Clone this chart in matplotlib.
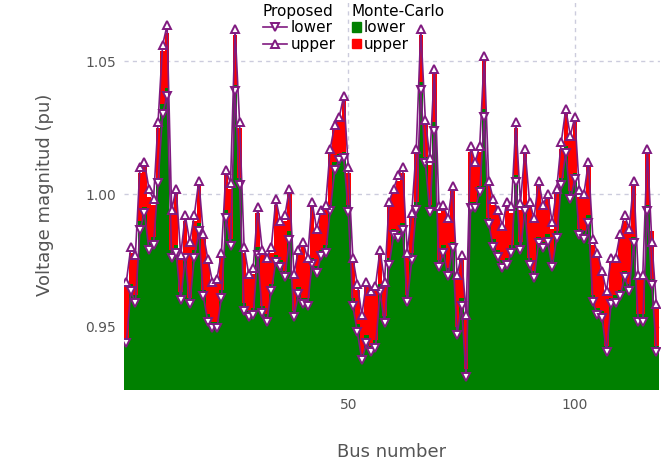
import numpy as np
import matplotlib
matplotlib.use("Agg")
import matplotlib.pyplot as plt
from matplotlib.lines import Line2D
from matplotlib.patches import Patch

buses = list(range(1, 119))

prop_upper = [0.967, 0.980, 0.977, 1.010, 1.012, 1.002, 0.998, 1.027, 1.056, 1.0635,
              0.994, 1.002, 0.977, 0.992, 0.982, 0.992, 1.005, 0.985, 0.9755, 0.967,
              0.968, 0.978, 1.009, 1.004, 1.062, 1.027, 0.980, 0.970, 0.972, 0.995,
              0.979, 0.976, 0.980, 0.998, 0.990, 0.992, 1.002, 0.970, 0.979, 0.982,
              0.976, 0.997, 0.987, 0.994, 0.996, 1.017, 1.026, 1.029, 1.037, 1.010,
              0.976, 0.966, 0.9545, 0.967, 0.9635, 0.9655, 0.979, 0.967, 0.997, 1.002,
              1.007, 1.010, 0.978, 0.993, 1.017, 1.062, 1.028, 1.0135, 1.047, 0.9955,
              0.996, 0.991, 1.003, 0.9695, 0.977, 0.9545, 1.018, 1.012, 1.018, 1.052,
              1.005, 0.998, 0.994, 0.988, 0.997, 0.9955, 1.027, 0.9965, 1.017, 0.997,
              0.991, 1.005, 0.996, 1.000, 0.9895, 1.002, 1.0195, 1.032, 1.022, 1.029,
              1.0015, 1.000, 1.012, 0.983, 0.978, 0.971, 0.9635, 0.976, 0.976, 0.985,
              0.992, 0.987, 1.005, 0.9695, 0.9695, 1.017, 0.982, 0.9585]

prop_lower = [0.944, 0.9635, 0.959, 0.9865, 0.993, 0.979, 0.981, 1.004, 1.030, 1.037,
              0.976, 0.978, 0.960, 0.976, 0.9585, 0.976, 0.986, 0.9615, 0.952, 0.9497,
              0.9497, 0.961, 0.991, 0.9805, 1.0387, 1.0034, 0.956, 0.9537, 0.9545, 0.977,
              0.9553, 0.952, 0.9635, 0.9745, 0.9726, 0.9688, 0.9827, 0.9538, 0.9624, 0.9586,
              0.958, 0.9737, 0.9703, 0.9767, 0.978, 0.9936, 1.009, 1.0128, 1.0135, 0.9932,
              0.958, 0.948, 0.9376, 0.944, 0.9406, 0.942, 0.963, 0.9515, 0.9733, 0.9846,
              0.9835, 0.9865, 0.9594, 0.975, 0.994, 1.039, 1.0117, 0.9932, 1.0237, 0.9726,
              0.978, 0.969, 0.9797, 0.947, 0.958, 0.931, 0.9947, 0.9947, 1.0008, 1.029,
              0.9887, 0.980, 0.9763, 0.972, 0.9733, 0.978, 1.0045, 0.979, 0.9936, 0.9733,
              0.9685, 0.9816, 0.9797, 0.982, 0.9726, 0.9835, 1.0034, 1.0154, 0.998, 1.0056,
              0.9846, 0.983, 0.989, 0.9594, 0.9545, 0.9534, 0.9406, 0.9586, 0.959, 0.9617,
              0.9688, 0.9635, 0.9816, 0.952, 0.952, 0.9936, 0.9658, 0.9406]

mc_upper = [0.965, 0.978, 0.975, 1.008, 1.010, 0.999, 0.996, 1.025, 1.054, 1.0605,
            0.992, 1.000, 0.975, 0.990, 0.980, 0.990, 1.003, 0.983, 0.974, 0.965,
            0.966, 0.976, 1.007, 1.002, 1.060, 1.025, 0.978, 0.968, 0.970, 0.993,
            0.977, 0.974, 0.978, 0.996, 0.988, 0.990, 1.000, 0.968, 0.977, 0.980,
            0.974, 0.995, 0.985, 0.992, 0.994, 1.015, 1.024, 1.027, 1.035, 1.008,
            0.974, 0.964, 0.953, 0.965, 0.962, 0.964, 0.977, 0.965, 0.995, 1.000,
            1.005, 1.008, 0.976, 0.991, 1.015, 1.060, 1.026, 1.011, 1.045, 0.993,
            0.994, 0.989, 1.001, 0.968, 0.975, 0.953, 1.016, 1.010, 1.016, 1.050,
            1.003, 0.996, 0.992, 0.986, 0.995, 0.993, 1.025, 0.994, 1.015, 0.995,
            0.989, 1.003, 0.994, 0.998, 0.987, 1.000, 1.017, 1.030, 1.020, 1.027,
            0.999, 0.998, 1.010, 0.981, 0.976, 0.969, 0.962, 0.974, 0.974, 0.983,
            0.990, 0.985, 1.003, 0.968, 0.968, 1.015, 0.986, 0.957]

mc_lower = [0.9455, 0.966, 0.962, 0.990, 0.995, 0.982, 0.984, 1.006, 1.034, 1.040,
            0.979, 0.981, 0.963, 0.978, 0.961, 0.979, 0.989, 0.964, 0.955, 0.952,
            0.952, 0.964, 0.994, 0.983, 1.041, 1.006, 0.959, 0.956, 0.957, 0.980,
            0.958, 0.955, 0.966, 0.977, 0.975, 0.971, 0.986, 0.956, 0.965, 0.961,
            0.961, 0.976, 0.973, 0.979, 0.981, 0.996, 1.012, 1.015, 1.016, 0.996,
            0.961, 0.951, 0.940, 0.947, 0.943, 0.945, 0.966, 0.954, 0.976, 0.987,
            0.986, 0.989, 0.962, 0.978, 0.997, 1.042, 1.014, 0.996, 1.027, 0.975,
            0.981, 0.972, 0.982, 0.950, 0.961, 0.934, 0.997, 0.997, 1.003, 1.032,
            0.991, 0.983, 0.979, 0.975, 0.976, 0.981, 1.007, 0.982, 0.996, 0.976,
            0.971, 0.984, 0.982, 0.985, 0.975, 0.986, 1.006, 1.018, 1.001, 1.008,
            0.987, 0.986, 0.992, 0.962, 0.957, 0.956, 0.943, 0.961, 0.962, 0.964,
            0.971, 0.966, 0.984, 0.955, 0.955, 0.996, 0.968, 0.943]

legend_prop = ["lower", "upper"]
legend_mc = ["lower", "upper"]

y_bottom = 0.9263
y_top = 1.073

PURPLE = "#801a80"
LW, MS, MEW = 1.2, 6, 1.4
fig = plt.figure(figsize=(6.67, 4.67), dpi=100)
ax = fig.add_axes([0.186, 0.165, 0.8035, 0.835])

x = np.array(buses)
mu = np.array(mc_upper)
ml = np.array(mc_lower)
ax.bar(x, mu - y_bottom, bottom=y_bottom, width=1.0, color="#ff0000", linewidth=0, zorder=2)
ax.bar(x, ml - y_bottom, bottom=y_bottom, width=1.0, color="#008000", linewidth=0, zorder=3)

ax.plot(x, prop_lower, color=PURPLE, lw=LW, marker="v", ms=MS, mfc="white", mec=PURPLE, mew=MEW, zorder=4)
ax.plot(x, prop_upper, color=PURPLE, lw=LW, marker="^", ms=MS, mfc="white", mec=PURPLE, mew=MEW, zorder=4)

ax.set_xlim(0.5, 118.8)
ax.set_ylim(y_bottom, y_top)
ax.set_xticks([50, 100])
ax.set_yticks([0.95, 1.00, 1.05])
ax.set_yticklabels(["0.95", "1.00", "1.05"])
ax.grid(True, color="#ccccdd", linestyle=(0, (3, 3)), linewidth=1.0, zorder=0)
ax.set_axisbelow(True)
for s in ax.spines.values():
    s.set_visible(False)
ax.tick_params(length=0, labelsize=10, colors="#555555", pad=6)
ax.set_xlabel("Bus number", fontsize=13, color="#555555", labelpad=22)
ax.set_ylabel("Voltage magnitud (pu)", fontsize=13, color="#555555", labelpad=22)

h1 = [Line2D([], [], color=PURPLE, lw=LW, marker="v", ms=MS, mfc="white", mec=PURPLE, mew=MEW),
      Line2D([], [], color=PURPLE, lw=LW, marker="^", ms=MS, mfc="white", mec=PURPLE, mew=MEW)]
h2 = [Patch(color="#008000"), Patch(color="#ff0000")]

kw = dict(frameon=False, fontsize=11, title_fontsize=11, borderpad=0.0, borderaxespad=0.0,
          labelspacing=0.1, handletextpad=0.2, alignment="left")
leg1 = ax.legend(h1, legend_prop, title="Proposed", loc="upper left",
                 bbox_to_anchor=(0.259, 0.99), handlelength=1.6, **kw)
ax.add_artist(leg1)
leg2 = ax.legend(h2, legend_mc, title="Monte-Carlo", loc="upper left",
                 bbox_to_anchor=(0.425, 0.99), handlelength=0.6, handleheight=0.6, **kw)
for lg in (leg1, leg2):
    lg.set_zorder(10)

fig.savefig("out.png", dpi=100)
